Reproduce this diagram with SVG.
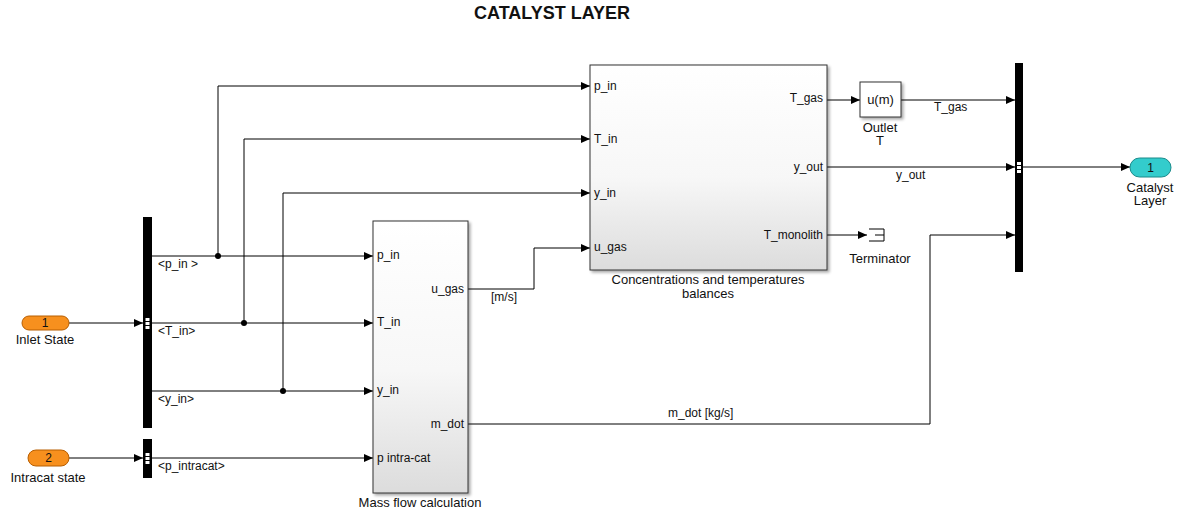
<svg xmlns="http://www.w3.org/2000/svg" width="1181" height="513" viewBox="0 0 1181 513">
<style>
text{font-family:"Liberation Sans",Arial,sans-serif;font-size:12px;fill:#111}
.t{font-weight:bold;font-size:18px}
.n{font-size:13px}
.w{fill:none;stroke:#000;stroke-width:1}
.blk{stroke:#333;stroke-width:1;fill:url(#g)}
.bar{fill:#000}
.mid{text-anchor:middle}
.end{text-anchor:end}
</style>
<defs>
<linearGradient id="g" x1="0" y1="0" x2="0" y2="1">
<stop offset="0" stop-color="#ffffff"/>
<stop offset="0.55" stop-color="#f7f7f7"/>
<stop offset="1" stop-color="#dcdcdc"/>
</linearGradient>
<filter id="sh" x="-10%" y="-10%" width="130%" height="130%">
<feGaussianBlur in="SourceAlpha" stdDeviation="1.5"/>
<feOffset dx="2" dy="2" result="b"/>
<feComponentTransfer><feFuncA type="linear" slope="0.35"/></feComponentTransfer>
<feMerge><feMergeNode/><feMergeNode in="SourceGraphic"/></feMerge>
</filter>
<marker id="a" markerWidth="9" markerHeight="8" refX="9" refY="4" orient="auto" markerUnits="userSpaceOnUse">
<path d="M0,0 L9,4 L0,8 Z" fill="#000"/>
</marker>
</defs>
<rect width="1181" height="513" fill="#fff"/>
<text class="t mid" x="552" y="19">CATALYST LAYER</text>

<g id="connectors">
<path class="w" d="M69,323 H143" marker-end="url(#a)"/>
<path class="w" d="M69,458 H143" marker-end="url(#a)"/>
<path class="w" d="M152,256 H373" marker-end="url(#a)"/>
<path class="w" d="M152,323 H373" marker-end="url(#a)"/>
<path class="w" d="M152,391 H373" marker-end="url(#a)"/>
<path class="w" d="M152,458 H373" marker-end="url(#a)"/>
<path class="w" d="M218,256 V86 H590" marker-end="url(#a)"/>
<path class="w" d="M244,323 V139 H590" marker-end="url(#a)"/>
<path class="w" d="M283,391 V193 H590" marker-end="url(#a)"/>
<circle cx="218" cy="256" r="3" fill="#000"/>
<circle cx="244" cy="323" r="3" fill="#000"/>
<circle cx="283" cy="391" r="3" fill="#000"/>
<path class="w" d="M468,289 H534 V248 H590" marker-end="url(#a)"/>
<path class="w" d="M468,424 H930 V235 H1015" marker-end="url(#a)"/>
<path class="w" d="M827,100 H860" marker-end="url(#a)"/>
<path class="w" d="M901,100 H1015" marker-end="url(#a)"/>
<path class="w" d="M827,167 H1015" marker-end="url(#a)"/>
<path class="w" d="M827,235 H867" marker-end="url(#a)"/>
<path class="w" d="M1023,167 H1130" marker-end="url(#a)"/>
<text x="158" y="268">&lt;p_in &gt;</text>
<text x="158" y="335">&lt;T_in&gt;</text>
<text x="158" y="403">&lt;y_in&gt;</text>
<text x="158" y="470">&lt;p_intracat&gt;</text>
<text x="491" y="301">[m/s]</text>
<text x="934" y="111">T_gas</text>
<text x="896" y="179">y_out</text>
<text x="668" y="417">m_dot [kg/s]</text>
</g>

<g id="inlet_state">
<rect x="22" y="316" width="47" height="14" rx="7" fill="#f7901e" stroke="#b85e00"/>
<text class="mid" x="45" y="327">1</text>
<text class="mid n" x="45" y="344">Inlet State</text>
</g>

<g id="intracat_state">
<rect x="28" y="450" width="41" height="16" rx="8" fill="#f7901e" stroke="#b85e00"/>
<text class="mid" x="48.5" y="462">2</text>
<text class="mid n" x="48" y="482">Intracat state</text>
</g>

<g id="bus_selector_1">
<rect class="bar" x="143" y="217" width="9" height="211"/>
<rect x="145.5" y="318" width="4" height="3" fill="#fff"/>
<rect x="145.5" y="322" width="4" height="3" fill="#fff"/>
<rect x="145.5" y="326" width="4" height="3" fill="#fff"/>
</g>

<g id="bus_selector_2">
<rect class="bar" x="143" y="439" width="9" height="39"/>
<rect x="145.5" y="453" width="4" height="3" fill="#fff"/>
<rect x="145.5" y="457" width="4" height="3" fill="#fff"/>
<rect x="145.5" y="461" width="4" height="3" fill="#fff"/>
</g>

<g id="mass_flow_calculation">
<rect class="blk" x="373" y="221" width="95" height="272" filter="url(#sh)"/>
<text x="377" y="259">p_in</text>
<text x="377" y="326">T_in</text>
<text x="377" y="394">y_in</text>
<text x="377" y="462">p intra-cat</text>
<text class="end" x="464" y="293">u_gas</text>
<text class="end" x="464" y="428">m_dot</text>
<text class="mid n" x="420" y="507">Mass flow calculation</text>
</g>

<g id="concentrations_balances">
<rect class="blk" x="590" y="65" width="237" height="205" filter="url(#sh)"/>
<text x="594" y="90">p_in</text>
<text x="594" y="143">T_in</text>
<text x="594" y="197">y_in</text>
<text x="594" y="251">u_gas</text>
<text class="end" x="823" y="102">T_gas</text>
<text class="end" x="823" y="171">y_out</text>
<text class="end" x="823" y="239">T_monolith</text>
<text class="mid n" x="708" y="284">Concentrations and temperatures</text>
<text class="mid n" x="708" y="298">balances</text>
</g>

<g id="outlet_T">
<rect x="860" y="82" width="41" height="35" fill="#fff" stroke="#333" filter="url(#sh)"/>
<text class="mid n" x="880.5" y="104">u(m)</text>
<text class="mid n" x="880" y="132">Outlet</text>
<text class="mid n" x="880" y="145">T</text>
</g>

<g id="terminator">
<path class="w" d="M869,229 H884 V241 H869 M875,235 H884"/>
<text class="mid n" x="880" y="263">Terminator</text>
</g>

<g id="bus_creator">
<rect class="bar" x="1015" y="63" width="8" height="209"/>
<rect x="1017" y="162" width="4" height="3" fill="#fff"/>
<rect x="1017" y="166" width="4" height="3" fill="#fff"/>
<rect x="1017" y="170" width="4" height="3" fill="#fff"/>
</g>

<g id="catalyst_layer">
<rect x="1130" y="158" width="41" height="19" rx="9.5" fill="#33cccc" stroke="#1a8a8a"/>
<text class="mid" x="1150.5" y="172">1</text>
<text class="mid n" x="1150" y="192">Catalyst</text>
<text class="mid n" x="1150" y="205">Layer</text>
</g>
</svg>
